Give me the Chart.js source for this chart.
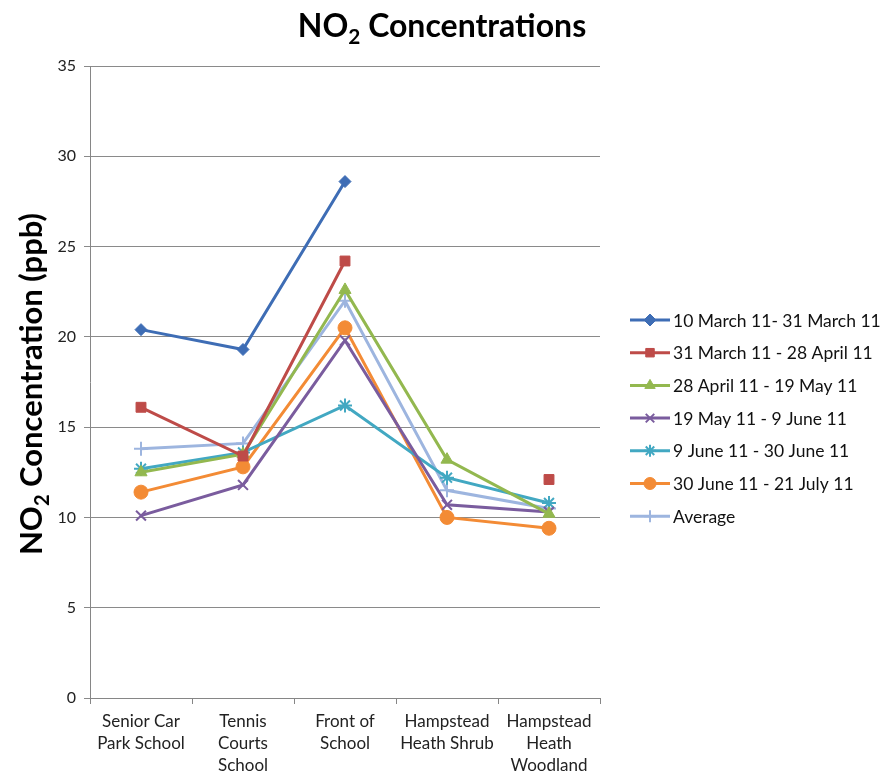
<!DOCTYPE html>
<html><head><meta charset="utf-8">
<script src="https://cdn.jsdelivr.net/npm/chart.js@4"></script>
<style>html,body{margin:0;padding:0;background:#fff}#wrap{width:885px;height:774px}</style>
</head><body><div id="wrap"><canvas id="c" width="885" height="774"></canvas></div>
<script>
const categories = [["Senior Car","Park School"],["Tennis","Courts","School"],["Front of","School"],["Hampstead","Heath Shrub"],["Hampstead","Heath","Woodland"]];
const seriesNames = ["10 March 11- 31 March 11","31 March 11 - 28 April 11","28 April 11 - 19 May 11","19 May 11 - 9 June 11","9 June 11 - 30 June 11","30 June 11 - 21 July 11","Average"];
const s1 = [20.4, 19.3, 28.6, null, null];
const s2 = [16.1, 13.4, 24.2, null, 12.1];
const s3 = [12.5, 13.5, 22.6, 13.2, 10.2];
const s4 = [10.1, 11.8, 19.8, 10.7, 10.3];
const s5 = [12.7, 13.6, 16.2, 12.2, 10.8];
const s6 = [11.4, 12.8, 20.5, 10.0, 9.4];
const s7 = [13.8, 14.1, 22.0, 11.5, 10.5];
const yTicks = [0,5,10,15,20,25,30,35];

const colors = ["#3E6DB5","#BE4B48","#93B84F","#7A5C9E","#42A8C2","#F38B35","#9DB5DF"];
const styles = ["rectRot","rect","triangle","crossRot","star","circle","cross"];
const radii = [6,7,7,7,7,7,7];
const allData = [s1,s2,s3,s4,s5,s6,s7];

const datasets = allData.map((d,i)=>({
  label: seriesNames[i], data: d,
  borderColor: colors[i], backgroundColor: colors[i],
  borderWidth: 3, pointStyle: styles[i], pointRadius: radii[i],
  pointBorderWidth: (styles[i].startsWith("cross")||styles[i]==="star") ? 2 : 1,
  pointBackgroundColor: colors[i], pointBorderColor: colors[i],
  tension: 0, spanGaps: false
}));

const FONT = "Lato, 'Liberation Sans', sans-serif";

function drawSubText(ctx, parts, size, x, y, align){
  const subSize = size*0.65;
  let total = 0;
  parts.forEach(p=>{ ctx.font = "bold "+(p[1]?subSize:size)+"px "+FONT; total += ctx.measureText(p[0]).width; });
  let cx = align==="center" ? x - total/2 : x;
  parts.forEach(p=>{
    ctx.font = "bold "+(p[1]?subSize:size)+"px "+FONT;
    ctx.fillText(p[0], cx, p[1] ? y + size*0.22 : y);
    cx += ctx.measureText(p[0]).width;
  });
}

const extras = {
  id: "extras",
  afterDraw(chart){
    const ctx = chart.ctx;
    ctx.save();
    ctx.fillStyle = "#000";
    ctx.textBaseline = "alphabetic";
    ctx.textAlign = "left";
    drawSubText(ctx, [["NO",0],["2",1],[" Concentrations",0]], 32, 442, 37, "center");
    ctx.save();
    ctx.translate(42, 384);
    ctx.rotate(-Math.PI/2);
    drawSubText(ctx, [["NO",0],["2",1],[" Concentration (ppb)",0]], 31, 0, 0, "center");
    ctx.restore();
    const x0 = 630, x1 = 670, yStart = 320, dy = 32.7;
    chart.data.datasets.forEach((ds,i)=>{
      const y = yStart + i*dy;
      ctx.strokeStyle = ds.borderColor; ctx.lineWidth = 3;
      ctx.beginPath(); ctx.moveTo(x0,y); ctx.lineTo(x1,y); ctx.stroke();
      ctx.fillStyle = ds.backgroundColor;
      ctx.lineWidth = ds.pointBorderWidth;
      Chart.helpers.drawPoint(ctx, {pointStyle: ds.pointStyle, radius: 6, borderWidth: ds.pointBorderWidth}, (x0+x1)/2, y);
      ctx.fillStyle = "#111";
      ctx.font = "17.5px "+FONT;
      ctx.textBaseline = "middle";
      ctx.fillText(ds.label, x1+3, y+1);
    });
    ctx.restore();
  }
};

new Chart(document.getElementById("c"), {
  type: "line",
  data: { labels: categories, datasets },
  plugins: [extras],
  options: {
    responsive: false, animation: false,
    layout: { padding: { left: 0, right: 285, top: 66, bottom: 0 } },
    plugins: { legend: { display: false }, title: { display: false }, tooltip: { enabled: false } },
    scales: {
      x: {
        offset: true,
        grid: { display: true, drawOnChartArea: false, offset: true, color: "#868686", tickLength: 6 },
        border: { color: "#868686", width: 1 },
        ticks: { color: "#222", font: { size: 17, family: FONT, lineHeight: 1.3 }, maxRotation: 0, autoSkip: false, padding: 6 },
        afterFit(s){ s.height = 76; }
      },
      y: {
        min: 0, max: 35,
        afterBuildTicks(s){ s.ticks = yTicks.map(v=>({value:v})); },
        grid: { color: "#8A8A8A", tickLength: 6, drawTicks: true },
        border: { color: "#868686", width: 1 },
        ticks: { color: "#222", font: { size: 16, family: FONT }, padding: 8 },
        afterFit(s){ s.width = 90; }
      }
    }
  }
});
</script>
</body></html>
